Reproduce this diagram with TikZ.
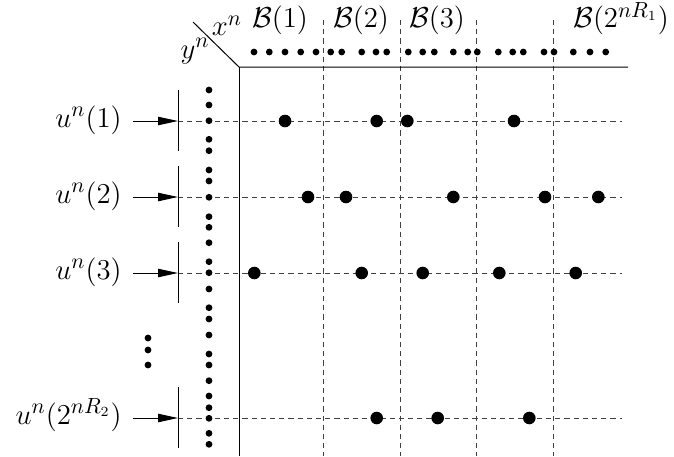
\documentclass[tikz,border=0pt]{standalone}
\usetikzlibrary{arrows.meta}
\begin{document}
\begin{tikzpicture}[x=0.5pt,y=-0.5pt,
  lbl/.style={font=\fontsize{15}{18}\selectfont, inner sep=0pt},
  bigdot/.style={circle,fill=black,inner sep=0pt,minimum size=6.3pt},
  smalldot/.style={circle,fill=black,inner sep=0pt,minimum size=3.4pt},
  gridline/.style={dash pattern=on 2.6pt off 2pt, line width=0.5pt, black!75},
  axisline/.style={line width=0.5pt, black},
  arr/.style={-{Triangle[length=10pt,width=4.2pt]}, line width=0.5pt}]
\useasboundingbox (0,0) rectangle (674,456);

% axes
\coordinate (diag) at (193,22);
\coordinate (corner) at (239,67);
\coordinate (xend) at (628,67);
\coordinate (yend) at (239,456);

% vertical dashed block boundaries
\foreach \x [count=\i] in {323,400,476,553}{
  \coordinate (vt\i) at (\x,20);
  \coordinate (vb\i) at (\x,456);
  \draw[gridline] (vt\i) -- (vb\i);
}

% rows
\foreach \r/\y/\t in {1/121/$u^n(1)$, 2/197/$u^n(2)$, 3/273/$u^n(3)$, 4/418/$u^n(2^{nR_2})$}{
  \coordinate (rs\r) at (178,\y);
  \coordinate (re\r) at (622,\y);
  \coordinate (tt\r) at (178,\y-31);
  \coordinate (tb\r) at (178,\y+30);
  \coordinate (as\r) at (133,\y);
  \node[lbl, anchor=base east] (u\r) at (122,\y+6) {\t};
  \draw[gridline] (rs\r) -- (re\r);
  \draw[axisline] (tt\r) -- (tb\r);
  \draw[arr] (as\r) -- (rs\r);
}

\draw[axisline] (diag) -- (corner) -- (xend);
\draw[axisline] (corner) -- (yend);

% axis labels
\node[lbl] (xn) at (227,26) {$x^n$};
\node[lbl] (yn) at (195,51) {$y^n$};
\node[lbl, anchor=base] (b1) at (280,27.5) {$\mathcal{B}(1)$};
\node[lbl, anchor=base] (b2) at (361,27.5) {$\mathcal{B}(2)$};
\node[lbl, anchor=base] (b3) at (437,27.5) {$\mathcal{B}(3)$};
\node[lbl, anchor=base] (bN) at (621,27.5) {$\mathcal{B}(2^{nR_1})$};

% top row of x^n sequences
\foreach \x [count=\i] in {254,269.3,285,300.7,316,330.7,341.7,361.7,376,386.7,408.3,422.7,434.3,453.3,467.7,477.3,498.3,512.7,523.3,544,554,573.3,590,605.7}{
  \node[smalldot] (xs\i) at (\x,52) {};
}

% left column of y^n sequences
\foreach \y [count=\i] in {90,105,120.7,139.3,150.7,170,181,197.3,216.7,227.3,242.7,261.7,272.7,289,307.7,319,335,354,365,380.7,396,407.7,418.3,433.3,444.3}{
  \node[smalldot] (ys\i) at (209,\y) {};
}

% vertical ellipsis
\node[smalldot] (vd1) at (148,338) {};
\node[smalldot] (vd2) at (148,350) {};
\node[smalldot] (vd3) at (148,365) {};

% jointly typical points
\foreach \x [count=\i] in {285,376.7,407.3,514}{\node[bigdot] (pa\i) at (\x,121) {};}
\foreach \x [count=\i] in {308,346,453.3,545,598.3}{\node[bigdot] (pb\i) at (\x,197) {};}
\foreach \x [count=\i] in {254.3,361.7,422.7,499.3,575.7}{\node[bigdot] (pc\i) at (\x,273) {};}
\foreach \x [count=\i] in {376.7,437.7,529.3}{\node[bigdot] (pd\i) at (\x,418) {};}
\end{tikzpicture}
\end{document}
